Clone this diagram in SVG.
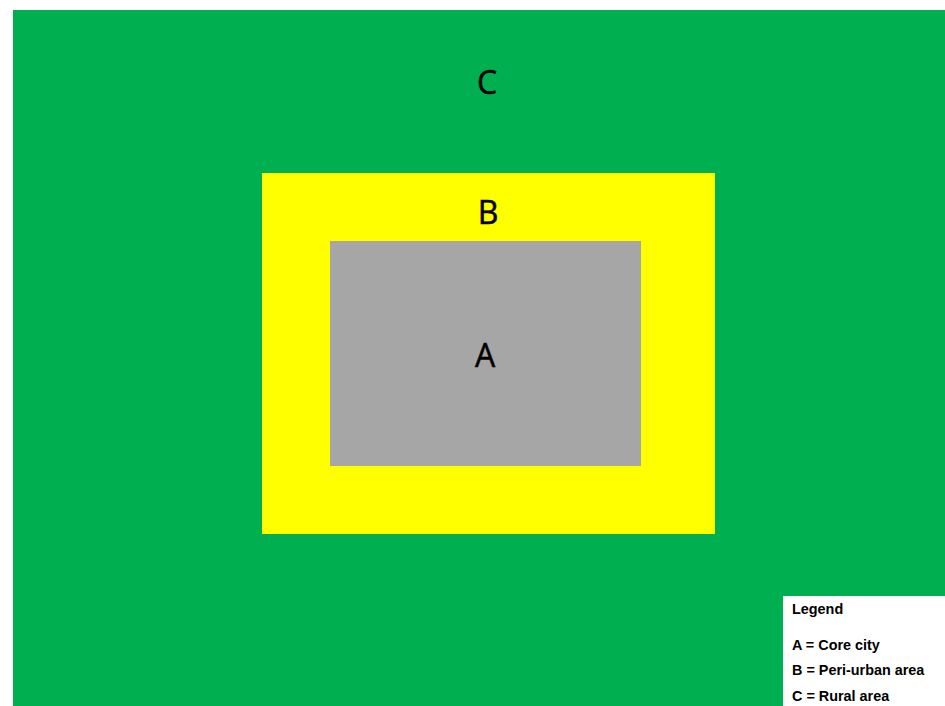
<svg xmlns="http://www.w3.org/2000/svg" width="945" height="706" viewBox="0 0 945 706">
<style>
.zl{font-family:"Open Sans","Noto Sans",sans-serif;font-size:32px;fill:#000;text-anchor:middle;stroke:#000;stroke-width:0.5}
.lg{font-family:"Liberation Sans",Arial,sans-serif;font-size:14.4px;font-weight:bold;fill:#000}
</style>
<rect x="0" y="0" width="945" height="706" fill="#fff"/>
<g id="rural">
<rect x="13" y="10" width="932" height="696" fill="#00B050"/>
<text class="zl" x="487" y="94">C</text>
</g>
<g id="periurban">
<rect x="262" y="173" width="453" height="361" fill="#FFFF00"/>
<text class="zl" x="488" y="224">B</text>
</g>
<g id="core">
<rect x="330" y="241" width="311" height="225" fill="#A6A6A6"/>
<text class="zl" x="485" y="367">A</text>
</g>
<g id="legend">
<rect x="783" y="596" width="162" height="110" fill="#fff"/>
<text class="lg" x="792" y="614">Legend</text>
<text class="lg" x="792" y="650">A = Core city</text>
<text class="lg" x="792" y="675">B = Peri-urban area</text>
<text class="lg" x="792" y="701">C = Rural area</text>
</g>
<g id="connectors"/>
</svg>
